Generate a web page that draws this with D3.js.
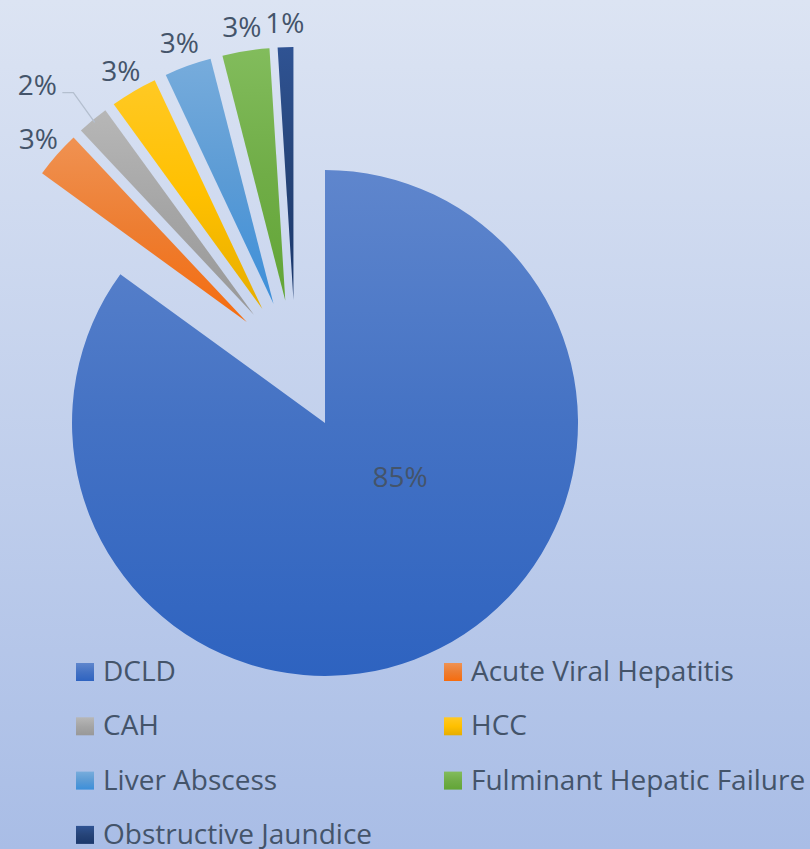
<!DOCTYPE html>
<html>
<head>
<meta charset="utf-8">
<script src="https://cdn.jsdelivr.net/npm/d3@7"></script>
<style>
  html, body { margin: 0; padding: 0; }
  svg { display: block; }
</style>
</head>
<body>
<div id="chart"></div>
<script>
// Diagnosis share (%)
const categories = ["DCLD", "Acute Viral Hepatitis", "CAH", "HCC", "Liver Abscess", "Fulminant Hepatic Failure", "Obstructive Jaundice"];
const values = [85, 3, 2, 3, 3, 3, 1];
const labels = ["85%", "3%", "2%", "3%", "3%", "3%", "1%"];
const colors = ["#4472C4", "#ED7D31", "#A5A5A5", "#FFC000", "#5B9BD5", "#70AD47", "#264478"];

const width = 810, height = 849;
const cx = 295.5, cy = 365;
const radius = 253;
const explode = 65;
const textColor = "#44546A";
const font = "'Open Sans', 'Noto Sans', sans-serif";

const svg = d3.select("#chart")
    .append("svg")
    .attr("width", width)
    .attr("height", height);

const defs = svg.append("defs");

// background gradient
const bg = defs.append("linearGradient")
    .attr("id", "bg")
    .attr("x1", 0).attr("y1", 0).attr("x2", 0).attr("y2", 1);
bg.append("stop").attr("offset", "0%").attr("stop-color", "#dce4f3");
bg.append("stop").attr("offset", "100%").attr("stop-color", "#a9bde6");

svg.append("rect")
    .attr("width", width)
    .attr("height", height)
    .attr("fill", "url(#bg)");

// slice gradients: light tint on top, saturated shade at the bottom
colors.forEach((c, i) => {
    const base = d3.hsl(c);
    const top = d3.hsl(base.h, base.s, Math.min(1, base.l + 0.07));
    const bottom = d3.hsl(base.h, Math.min(1, base.s + 0.09), base.l - 0.05);
    const g = defs.append("linearGradient")
        .attr("id", "grad" + i)
        .attr("x1", 0).attr("y1", 0).attr("x2", 0).attr("y2", 1);
    g.append("stop").attr("offset", "0%").attr("stop-color", top.formatHex());
    g.append("stop").attr("offset", "50%").attr("stop-color", base.formatHex());
    g.append("stop").attr("offset", "100%").attr("stop-color", bottom.formatHex());
});

const pie = d3.pie().sort(null).value(d => d);
const arcs = pie(values);

const arc = d3.arc().innerRadius(0).outerRadius(radius);

const mid = d => (d.startAngle + d.endAngle) / 2;
const offset = (d, r) => [Math.sin(mid(d)) * r, -Math.cos(mid(d)) * r];

const g = svg.append("g").attr("transform", `translate(${cx},${cy})`);

const slices = g.selectAll(".slice")
    .data(arcs)
    .enter()
    .append("g")
    .attr("class", "slice")
    .attr("transform", d => `translate(${offset(d, explode)})`);

slices.append("path")
    .attr("d", arc)
    .attr("fill", (d, i) => `url(#grad${i})`);

// data labels: inside for the big slice, outside end for the rest
const labelR = 278;
const moved = { 2: [-39.5, -17] }; // CAH label was dragged aside, with a leader line

slices.each(function(d, i) {
    const s = d3.select(this);
    let pos;
    if (i === 0) {
        pos = [75, 53];
    } else {
        pos = offset(d, labelR);
    }
    if (moved[i]) {
        const edge = offset(d, radius - 3);
        const p = [pos[0] + moved[i][0], pos[1] + moved[i][1]];
        s.append("path")
            .attr("d", d3.line()([[p[0] + 25, p[1] + 9], [p[0] + 36, p[1] + 9], edge]))
            .attr("fill", "none")
            .attr("stroke", "#b4bfcf")
            .attr("stroke-width", 1.3);
        pos = p;
    }
    s.append("text")
        .attr("x", pos[0])
        .attr("y", pos[1])
        .attr("text-anchor", "middle")
        .attr("dominant-baseline", "central")
        .attr("font-family", font)
        .attr("font-size", 28)
        .attr("fill", textColor)
        .text(labels[i]);
});

// legend, two columns
const legendX = [76, 444];
const legendY0 = 663, rowH = 54.3, box = 18;

const legend = svg.selectAll(".legend")
    .data(categories)
    .enter()
    .append("g")
    .attr("class", "legend")
    .attr("transform", (d, i) => `translate(${legendX[i % 2]},${legendY0 + Math.floor(i / 2) * rowH})`);

legend.append("rect")
    .attr("width", box)
    .attr("height", box)
    .attr("fill", (d, i) => `url(#grad${i})`);

legend.append("text")
    .attr("x", 27)
    .attr("y", box)
    .attr("font-family", font)
    .attr("font-size", 28)
    .attr("fill", textColor)
    .text(d => d);
</script>
</body>
</html>
